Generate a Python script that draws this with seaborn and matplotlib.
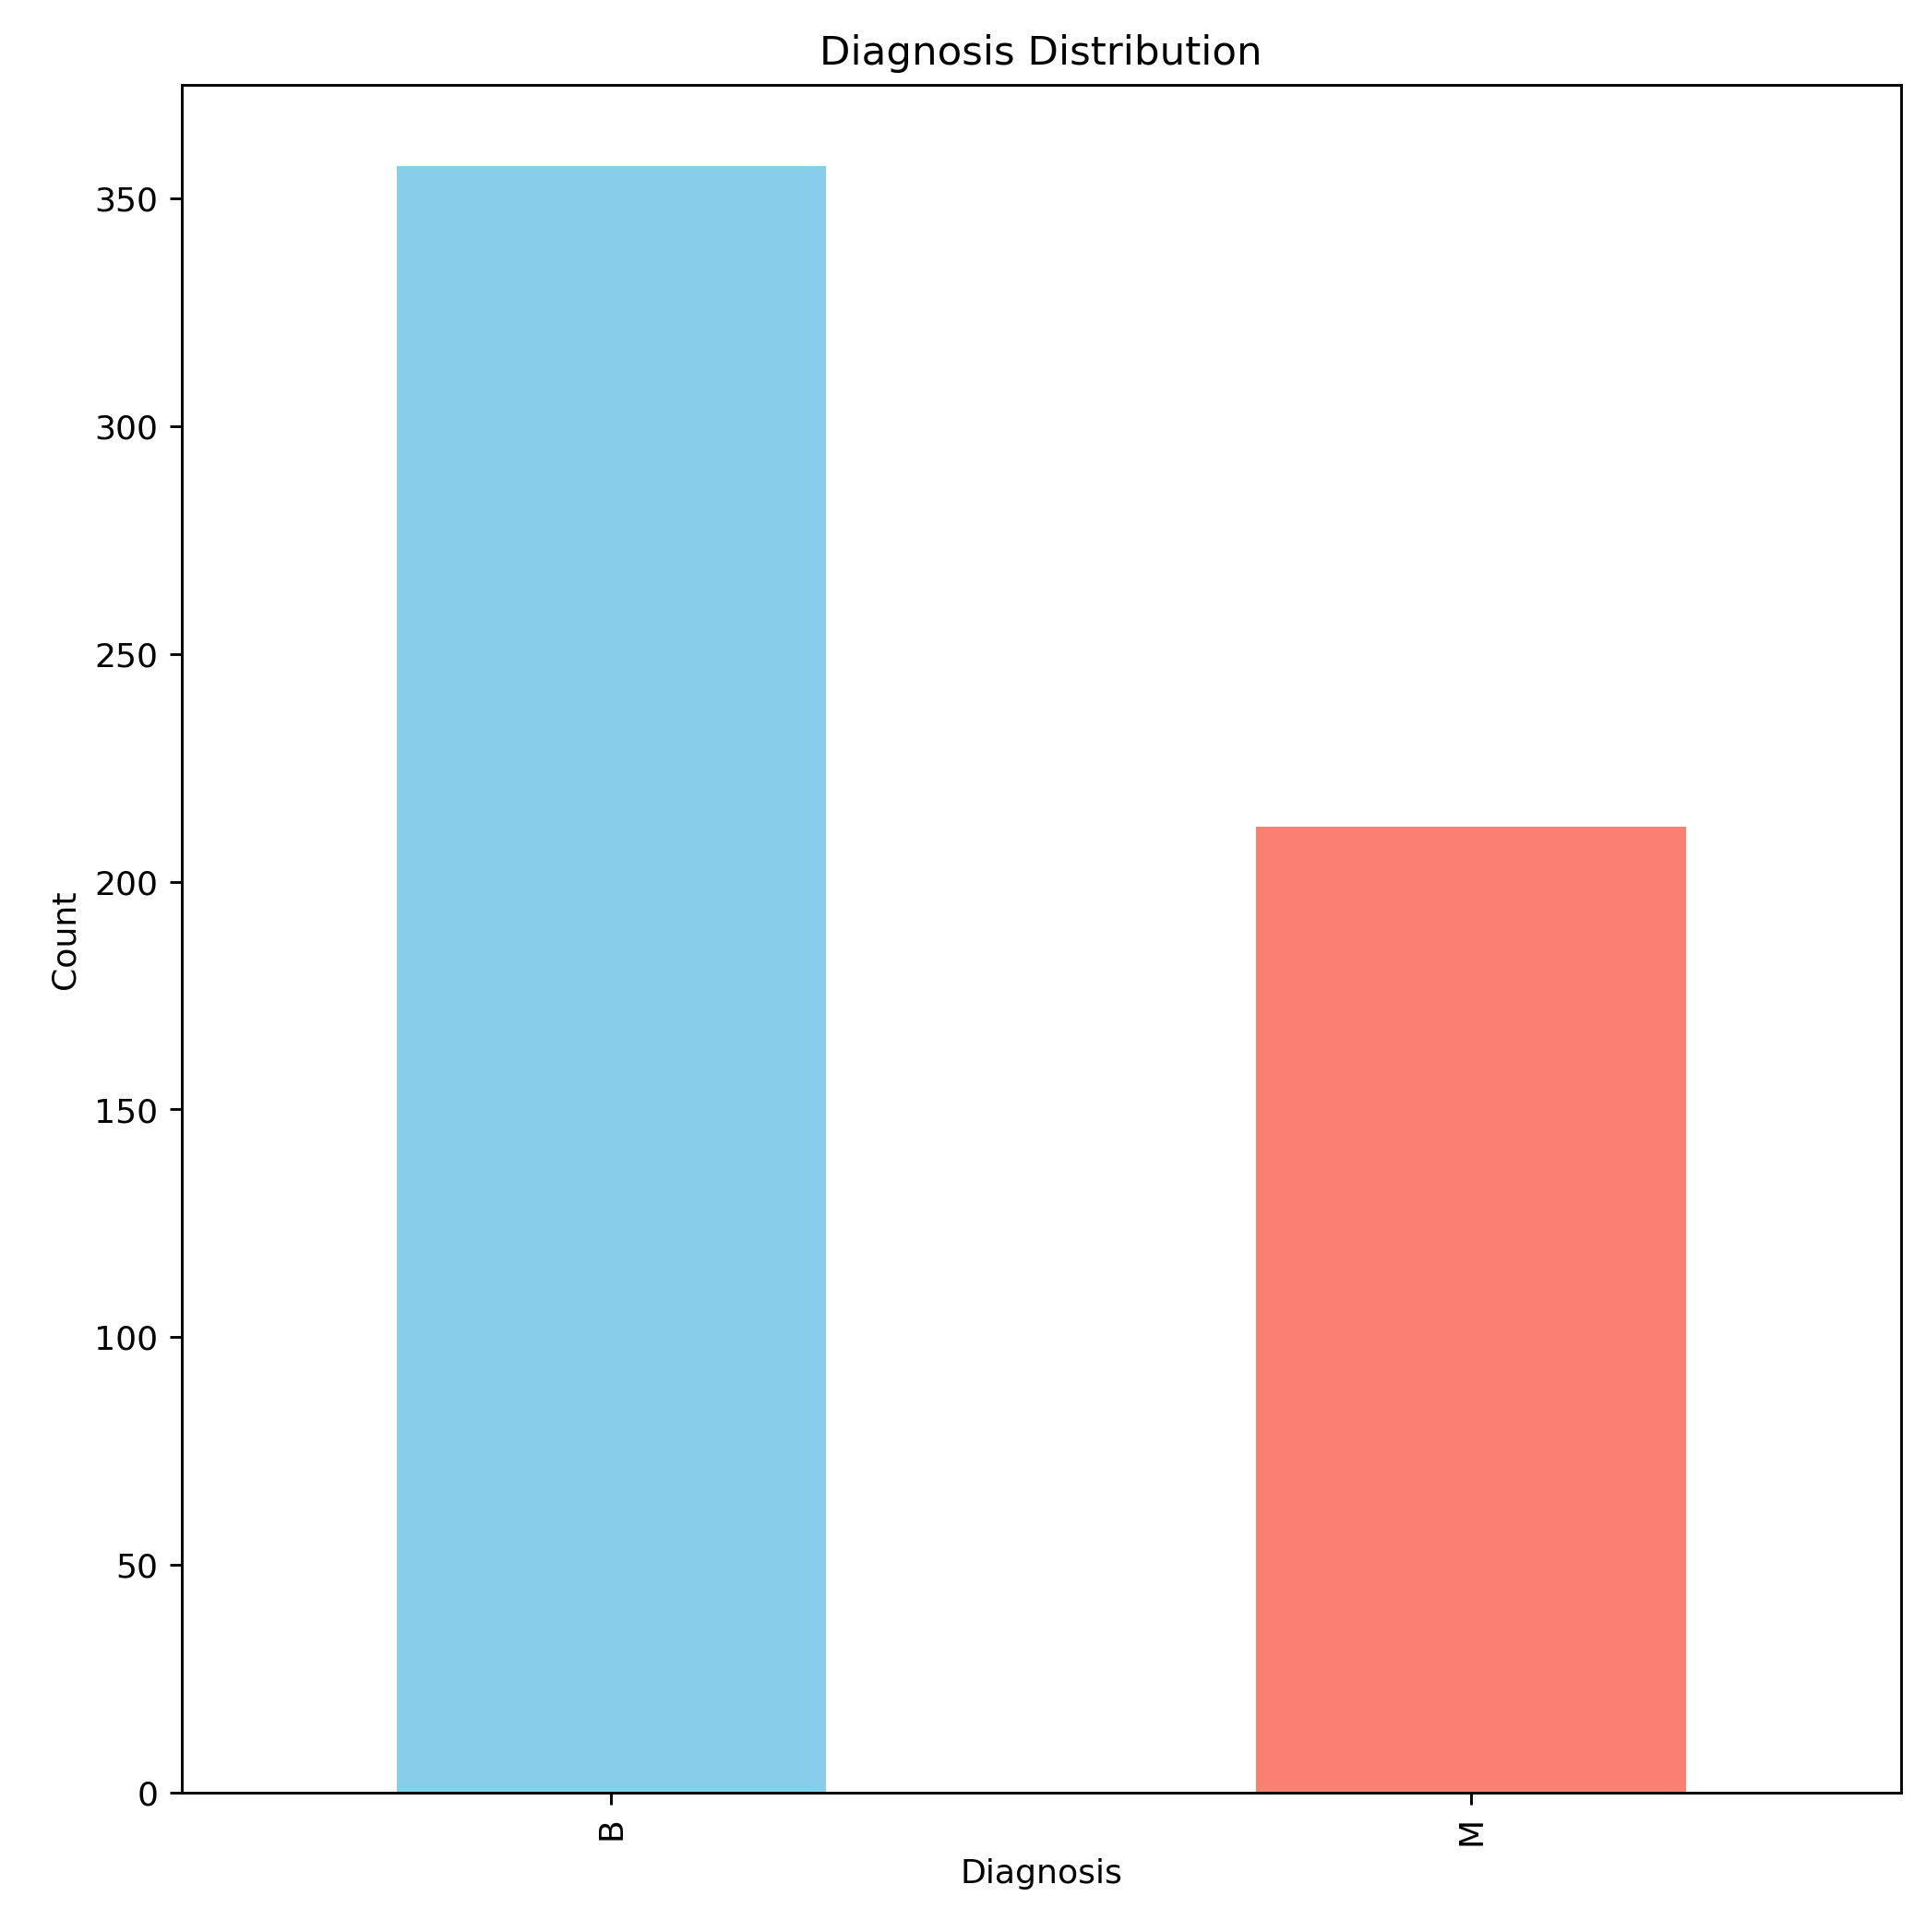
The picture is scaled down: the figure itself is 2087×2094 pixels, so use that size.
import matplotlib
matplotlib.use("Agg")
import matplotlib.pyplot as plt
import seaborn as sns
import pandas as pd

categories = ["B", "M"]
counts = [357, 212]
colors = ["skyblue", "salmon"]

df = pd.DataFrame({"Diagnosis": categories, "Count": counts})
fig = plt.figure(figsize=(8.0, 8.027), dpi=260.875)
ax = fig.add_axes([0.0942, 0.072, 0.987 - 0.0942, 0.956 - 0.072])
sns.barplot(data=df, x="Diagnosis", y="Count", hue="Diagnosis", palette=colors,
            width=0.5, legend=False, ax=ax, saturation=1)
ax.set_ylim(0, 357 * 1.05)
ax.set_xlim(-0.5, 1.5)
ax.tick_params(axis="x", rotation=90)
ax.set_title("Diagnosis Distribution")
ax.set_xlabel("Diagnosis")
ax.set_ylabel("Count")
fig.savefig("out.png")
